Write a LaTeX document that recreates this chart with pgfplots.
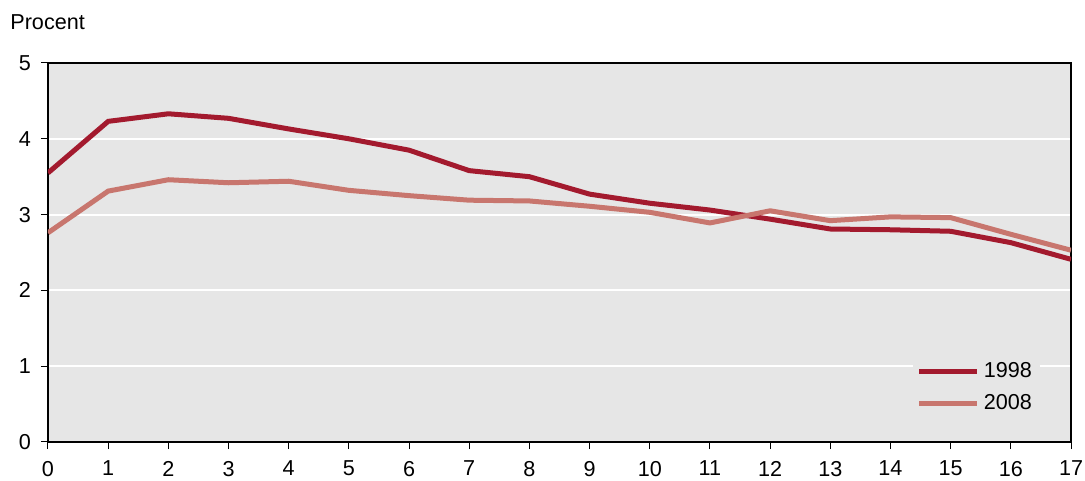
\documentclass[border=0pt]{standalone}
\usepackage{fontspec}
\setmainfont{Liberation Sans}
\usepackage{pgfplots}
\pgfplotsset{compat=1.18}
\definecolor{c98}{HTML}{A31A2E}
\definecolor{c08}{HTML}{C8766E}
\definecolor{bg}{HTML}{E6E6E6}
\begin{document}
\begin{tikzpicture}
\begin{axis}[
  scale only axis, width=511.5pt, height=189.5pt,
  xmin=0, xmax=17, ymin=0, ymax=5,
  xtick={0,...,17}, ytick={0,...,5},
  axis background/.style={fill=bg},
  ymajorgrids, grid style={white, line width=1pt},
  tick align=outside, major tick length=3.5pt,
  xtick pos=left, ytick pos=left,
  tick style={black, line width=0.5pt},
  axis line style={black, line width=0.6pt},
  ticklabel style={font=\fontsize{10.8}{13}\selectfont},
  xticklabel style={yshift=-2.5pt},
  yticklabel style={xshift=-1.5pt},
  /pgf/number format/assume math mode=true,
  legend style={at={(0.97,0.055)}, anchor=south east, fill=bg, draw=none,
    font=\fontsize{10.8}{13}\selectfont, row sep=3pt, inner sep=2pt},
  legend cell align=left,
  legend image code/.code={\draw[#1, line width=2.5pt] (0pt,0pt) -- (29pt,0pt);},
]
\addplot[c98, line width=2.5pt] coordinates {
(0,3.55) (1,4.23) (2,4.33) (3,4.27) (4,4.13) (5,4.00) (6,3.85) (7,3.58) (8,3.50)
(9,3.27) (10,3.15) (11,3.06) (12,2.94) (13,2.81) (14,2.80) (15,2.78) (16,2.63) (17,2.41)};
\addlegendentry{1998}
\addplot[c08, line width=2.5pt] coordinates {
(0,2.76) (1,3.31) (2,3.46) (3,3.42) (4,3.44) (5,3.32) (6,3.25) (7,3.19) (8,3.18)
(9,3.11) (10,3.03) (11,2.89) (12,3.05) (13,2.92) (14,2.97) (15,2.96) (16,2.74) (17,2.53)};
\addlegendentry{2008}
\end{axis}
\node[anchor=base west, font=\fontsize{10.8}{13}\selectfont, inner sep=0pt] at (-19pt,206pt) {Procent};
\pgfresetboundingbox
\path (-24pt,-19.5pt) rectangle (518.5pt,221pt);
\end{tikzpicture}
\end{document}
